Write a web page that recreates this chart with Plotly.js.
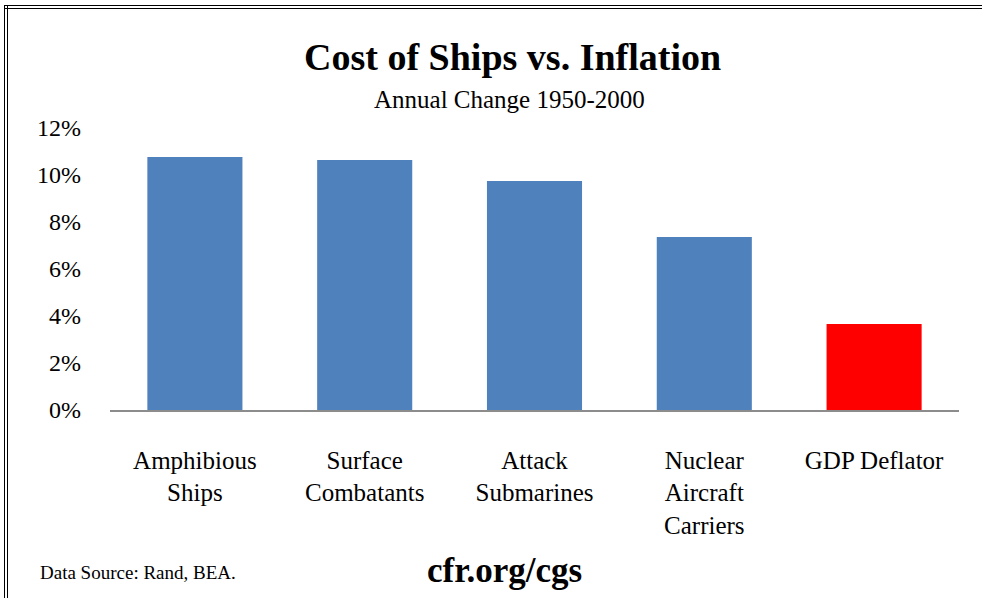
<!DOCTYPE html>
<html><head><meta charset="utf-8">
<script src="https://cdn.plot.ly/plotly-3.0.1.min.js"></script>
<style>
html,body{margin:0;padding:0;background:#fff;overflow:hidden;width:982px;height:598px;}
#wrap{position:relative;width:982px;height:598px;overflow:hidden;}
#ftop{position:absolute;left:4px;top:5px;width:978px;height:2px;border-top:1.5px solid #000;border-bottom:1.5px solid #000;}
#fleft{position:absolute;left:4px;top:5px;width:2px;height:593px;border-left:1.5px solid #000;border-right:1.5px solid #000;}
#chart{position:absolute;left:0;top:0;width:982px;height:598px;}
</style></head>
<body><div id="wrap"><div id="ftop"></div><div id="fleft"></div><div id="chart"></div></div>
<script>
const categories = ["Amphibious<br>Ships", "Surface<br>Combatants", "Attack<br>Submarines", "Nuclear<br>Aircraft<br>Carriers", "GDP Deflator"];
const values = [10.77, 10.64, 9.74, 7.36, 3.66];
const barColors = ["#4F81BD", "#4F81BD", "#4F81BD", "#4F81BD", "#FF0000"];
const yTicks = [0, 2, 4, 6, 8, 10, 12];
const yTickLabels = ["0%", "2%", "4%", "6%", "8%", "10%", "12%"];

const serif = "'Liberation Serif', 'DejaVu Serif', serif";
Plotly.newPlot("chart", [{
  type: "bar", x: categories, y: values,
  marker: {color: barColors}, hoverinfo: "none"
}], {
  width: 982, height: 598,
  font: {family: serif, color: "#000"},
  paper_bgcolor: "rgba(0,0,0,0)", plot_bgcolor: "rgba(0,0,0,0)",
  margin: {l: 110, r: 23, t: 128, b: 188},
  bargap: 0.44, showlegend: false,
  title: {text: "<b>Cost of Ships vs. Inflation</b>", font: {family: serif, size: 38, color: "#000"}, x: 0.522, xanchor: "center", y: 0.883, yanchor: "bottom"},
  xaxis: {showline: true, linecolor: "#8c8c8c", linewidth: 1.5, ticks: "", tickfont: {family: serif, size: 25, color: "#000"}, ticklabelstandoff: 27, fixedrange: true},
  yaxis: {range: [0, 12], tickvals: yTicks, ticktext: yTickLabels, showgrid: false, zeroline: false, showline: false, ticks: "", tickfont: {family: serif, size: 24, color: "#000"}, ticklabelstandoff: 28, fixedrange: true},
  annotations: [
    {text: "Annual Change 1950-2000", xref: "paper", yref: "paper", x: 0.47, y: 1.0, yshift: 29, xanchor: "center", yanchor: "middle", showarrow: false, font: {family: serif, size: 25, color: "#000"}},
    {text: "Data Source: Rand, BEA.", xref: "paper", yref: "paper", x: -0.085, y: -0.575, xanchor: "left", yanchor: "middle", showarrow: false, font: {family: serif, size: 19, color: "#000"}},
    {text: "<b>cfr.org/cgs</b>", xref: "paper", yref: "paper", x: 0.465, y: -0.57, xanchor: "center", yanchor: "middle", showarrow: false, font: {family: serif, size: 35, color: "#000"}}
  ]
}, {displayModeBar: false, staticPlot: true});
</script></body></html>
